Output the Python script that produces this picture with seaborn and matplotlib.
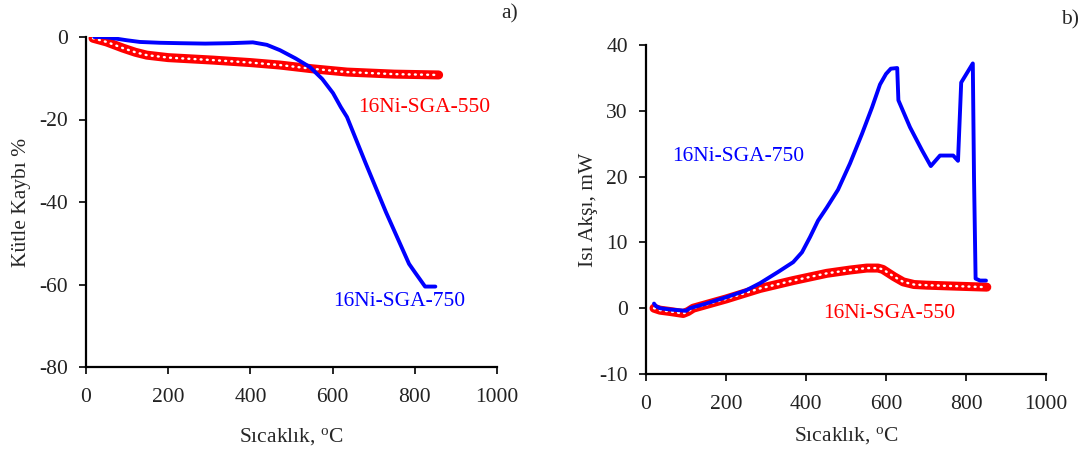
import matplotlib
matplotlib.use("Agg")
import matplotlib.pyplot as plt
import seaborn as sns
import pandas as pd

# ---- data: TGA (mass loss %) ----
tga_750_T = [20, 40, 60, 100, 131, 180, 229, 290, 350, 406, 440, 472, 510, 545, 575, 601, 620, 635, 680, 730, 786, 800, 825, 850]
tga_750_m = [0, 0, -0.2, -0.8, -1.2, -1.4, -1.5, -1.6, -1.5, -1.3, -1.9, -3.2, -5.2, -7.3, -10.2, -13.6, -17.0, -19.4, -30.5, -42.5, -55.0, -57.0, -60.5, -60.5]
tga_550_T = [17, 50, 90, 120, 148, 200, 309, 400, 472, 550, 635, 750, 858]
tga_550_m = [-0.3, -1.2, -2.7, -3.7, -4.4, -5.0, -5.6, -6.2, -6.8, -7.7, -8.5, -9.0, -9.2]

# ---- data: DSC (heat flow, mW) ----
dsc_750_T = [20, 25, 35, 60, 100, 110, 150, 202, 250, 285, 330, 368, 390, 410, 430, 452, 480, 510, 540, 565, 585, 600, 612, 628, 631, 660, 690, 712, 735, 768, 780, 788, 800, 817, 820, 824, 835, 850]
dsc_750_q = [0.7, 0.3, 0.0, -0.2, -0.4, 0.0, 0.7, 1.7, 2.7, 3.8, 5.5, 7.0, 8.5, 10.8, 13.3, 15.3, 18.0, 22.0, 26.5, 30.5, 34.0, 35.6, 36.4, 36.5, 31.6, 27.5, 24.0, 21.6, 23.2, 23.2, 22.4, 34.3, 35.5, 37.2, 20.0, 4.5, 4.2, 4.2]
dsc_550_T = [20, 35, 60, 93, 105, 118, 200, 285, 368, 452, 510, 552, 580, 592, 620, 643, 670, 702, 750, 800, 852]
dsc_550_q = [0.0, -0.3, -0.5, -0.8, -0.5, 0.0, 1.4, 3.0, 4.2, 5.3, 5.8, 6.1, 6.1, 5.9, 4.8, 4.0, 3.6, 3.5, 3.4, 3.3, 3.2]

xticks = [0, 200, 400, 600, 800, 1000]
yticks_a = [0, -20, -40, -60, -80]
yticks_b = [-10, 0, 10, 20, 30, 40]

sns.set_theme(style="ticks")
plt.rcParams['font.family'] = ['Liberation Serif', 'DejaVu Serif']
plt.rcParams['mathtext.fontset'] = 'custom'
plt.rcParams['mathtext.rm'] = 'Liberation Serif'
plt.rcParams['mathtext.it'] = 'Liberation Serif:italic'
plt.rcParams['axes.unicode_minus'] = False

FS = 15.5
BLUE = '#0000FF'
RED = '#FF0000'

fig = plt.figure(figsize=(10.89, 4.54), dpi=100)
axA = fig.add_axes([86/1089, 1-367/454, (497-86)/1089, (367-37)/454])
axB = fig.add_axes([646/1089, 1-374/454, (1046-646)/1089, (374-45)/454])

def red_dotted(ax, x, y):
    d = pd.DataFrame({'x': x, 'y': y})
    sns.lineplot(data=d, x='x', y='y', ax=ax, color=RED, lw=6.5, sort=False, solid_capstyle='round', solid_joinstyle='round')
    sns.lineplot(data=d, x='x', y='y', ax=ax, color='white', lw=1.7, sort=False, linestyle=(0, (0.4, 2.2)), dash_capstyle='round')

def blue_line(ax, x, y):
    d = pd.DataFrame({'x': x, 'y': y})
    sns.lineplot(data=d, x='x', y='y', ax=ax, color=BLUE, lw=2.8, sort=False, solid_joinstyle='round', solid_capstyle='round')

# Panel a
red_dotted(axA, tga_550_T, tga_550_m)
blue_line(axA, tga_750_T, tga_750_m)
axA.set_xlim(0, 1000)
axA.set_ylim(-80, 0)
axA.set_xticks(xticks)
axA.set_yticks(yticks_a)
axA.set_xlabel('Sıcaklık, $^{\\mathrm{o}}$C', fontsize=FS, labelpad=14)
axA.set_ylabel('Kütle Kaybı %', fontsize=FS, labelpad=6)
axA.text(662, -17, '16Ni-SGA-550', color=RED, fontsize=FS, va='center', ha='left')
axA.text(601, -64, '16Ni-SGA-750', color=BLUE, fontsize=FS, va='center', ha='left')

# Panel b
red_dotted(axB, dsc_550_T, dsc_550_q)
blue_line(axB, dsc_750_T, dsc_750_q)
axB.set_xlim(0, 1000)
axB.set_ylim(-10, 40)
axB.set_xticks(xticks)
axB.set_yticks(yticks_b)
axB.set_xlabel('Sıcaklık, $^{\\mathrm{o}}$C', fontsize=FS, labelpad=8)
axB.set_ylabel('Isı Akşı, mW', fontsize=FS, labelpad=1)
axB.text(65, 23, '16Ni-SGA-750', color=BLUE, fontsize=FS, va='center', ha='left')
axB.text(442, -0.8, '16Ni-SGA-550', color=RED, fontsize=FS, va='center', ha='left')

for ax in (axA, axB):
    sns.despine(ax=ax)
    ax.spines['left'].set_linewidth(1.6)
    ax.spines['bottom'].set_linewidth(1.6)
    ax.spines['left'].set_color('black')
    ax.spines['bottom'].set_color('black')
    ax.tick_params(axis='both', labelsize=FS, direction='out', length=5, width=1.2, colors='black', labelcolor='#222222')
    ax.tick_params(axis='x', pad=10)
    ax.tick_params(axis='y', pad=8)
    ax.grid(False)
    ax.set_facecolor('white')

fig.text(510/1089, 1-14/454, 'a)', fontsize=FS, ha='center', va='center')
fig.text(1070/1089, 1-20/454, 'b)', fontsize=FS, ha='center', va='center')

fig.savefig('out.png', dpi=100, facecolor='white')
